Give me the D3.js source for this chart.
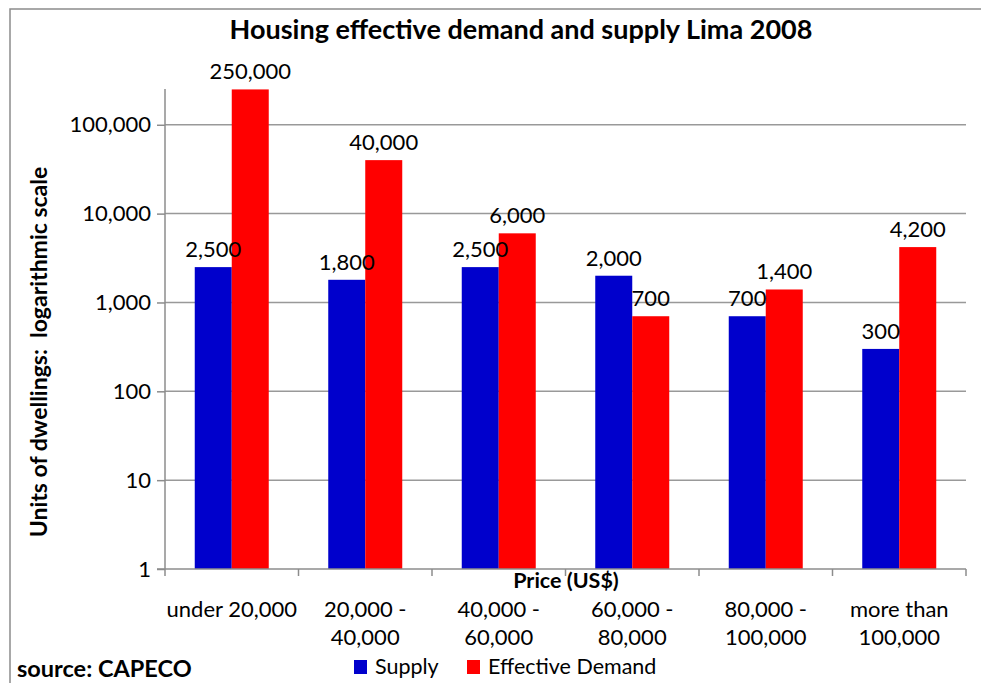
<!DOCTYPE html>
<html>
<head>
<meta charset="utf-8">
<script src="https://cdn.jsdelivr.net/npm/d3@7"></script>
<style>
  body { margin: 0; background: #fff; }
  text { font-family: Lato, "Open Sans", sans-serif; fill: #000; white-space: pre; }
</style>
</head>
<body>
<svg id="chart" width="981" height="683"></svg>
<script>
// chart data
var categories = [["under 20,000"], ["20,000 -", "40,000"], ["40,000 -", "60,000"],
                  ["60,000 -", "80,000"], ["80,000 -", "100,000"], ["more than", "100,000"]];
var seriesNames = ["Supply", "Effective Demand"];
var supply = [2500, 1800, 2500, 2000, 700, 300];
var demand = [250000, 40000, 6000, 700, 1400, 4200];
var yTicks = [1, 10, 100, 1000, 10000, 100000];
var colors = ["#0000CC", "#FF0000"];

var svg = d3.select("#chart");
var fmt = d3.format(",");

// outer chart frame
svg.append("rect").attr("x", 10).attr("y", 9).attr("width", 990).attr("height", 700)
  .style("fill", "none").style("stroke", "#8c8c8c").style("stroke-width", 1.5);

var plotL = 165, plotR = 966, plotT = 91, plotB = 569;

var x = d3.scaleBand().domain(d3.range(categories.length)).range([plotL, plotR]);
var xs = d3.scaleBand().domain([0, 1]).range([0, 74]);
var y = d3.scaleLog().domain([1, 240000]).range([plotB, plotT]);

// gridlines
svg.append("g").selectAll("line").data(yTicks.slice(1)).enter().append("line")
  .attr("x1", plotL).attr("x2", plotR)
  .attr("y1", function(d) { return y(d); }).attr("y2", function(d) { return y(d); })
  .style("stroke", "#999").style("stroke-width", 1.5);

// flatten to one record per bar
var bars = [];
categories.forEach(function(c, i) {
  bars.push({ cat: i, s: 0, v: supply[i] });
  bars.push({ cat: i, s: 1, v: demand[i] });
});
var bx = function(d) { return x(d.cat) + x.bandwidth() / 2 - 37 + xs(d.s); };

// bars first, labels on top of all bars
svg.append("g").selectAll("rect").data(bars).enter().append("rect")
  .attr("x", bx).attr("width", xs.bandwidth())
  .attr("y", function(d) { return y(d.v); })
  .attr("height", function(d) { return plotB - y(d.v); })
  .style("fill", function(d) { return colors[d.s]; });

svg.append("g").selectAll("text").data(bars).enter().append("text")
  .attr("x", function(d) { return bx(d) + xs.bandwidth() / 2; })
  .attr("y", function(d) { return y(d.v) - 10; })
  .attr("text-anchor", "middle").style("font-size", "22px")
  .text(function(d) { return fmt(d.v); });

// y axis
var yAxis = d3.axisLeft(y).tickValues(yTicks).tickFormat(fmt).tickSize(8).tickPadding(6);
var ya = svg.append("g").attr("transform", "translate(" + plotL + ",0)").call(yAxis);
ya.select(".domain").attr("d", "M0," + (plotT - 2) + "V" + plotB);
ya.selectAll("path,line").style("stroke", "#8c8c8c").style("stroke-width", 1.5);
ya.selectAll("text").style("font-size", "22px").style("font-family", "Lato");

// x axis
var xa = svg.append("g").attr("transform", "translate(0," + plotB + ")");
xa.append("line").attr("x1", plotL - 8).attr("x2", plotR).style("stroke", "#8c8c8c").style("stroke-width", 1.5);
xa.selectAll(".tk").data(d3.range(categories.length + 1)).enter().append("line")
  .attr("x1", function(d) { return plotL + d * x.bandwidth(); })
  .attr("x2", function(d) { return plotL + d * x.bandwidth(); })
  .attr("y1", 0).attr("y2", 7).style("stroke", "#8c8c8c").style("stroke-width", 1.5);

var cl = svg.append("g").selectAll("text").data(categories).enter().append("text")
  .attr("x", function(d, i) { return x(i) + x.bandwidth() / 2; })
  .attr("y", 617).attr("text-anchor", "middle").style("font-size", "22px");
cl.each(function(d) {
  var t = d3.select(this);
  d.forEach(function(line, k) {
    t.append("tspan").attr("x", t.attr("x")).attr("dy", k === 0 ? 0 : 28).text(line);
  });
});

// titles
svg.append("text").attr("x", 521).attr("y", 39).attr("text-anchor", "middle")
  .style("font-size", "27px").style("font-weight", "bold")
  .text("Housing effective demand and supply Lima 2008");
svg.append("text").attr("x", 566).attr("y", 588).attr("text-anchor", "middle")
  .style("font-size", "21.5px").style("font-weight", "bold").text("Price (US$)");
svg.append("text").attr("transform", "translate(47,352) rotate(-90)").attr("text-anchor", "middle")
  .style("font-size", "23px").style("font-weight", "bold")
  .text("Units of dwellings:  logarithmic scale");
svg.append("text").attr("x", 17).attr("y", 677)
  .style("font-size", "23.5px").style("font-weight", "bold").text("source: CAPECO");

// legend
var lg = svg.append("g").selectAll("g").data(seriesNames).enter().append("g")
  .attr("transform", function(d, i) { return "translate(" + [354, 467][i] + ",660)"; });
lg.append("rect").attr("width", 13).attr("height", 14)
  .style("fill", function(d, i) { return colors[i]; });
lg.append("text").attr("x", 21).attr("y", 14).style("font-size", "21.5px").text(function(d) { return d; });
</script>
</body>
</html>
